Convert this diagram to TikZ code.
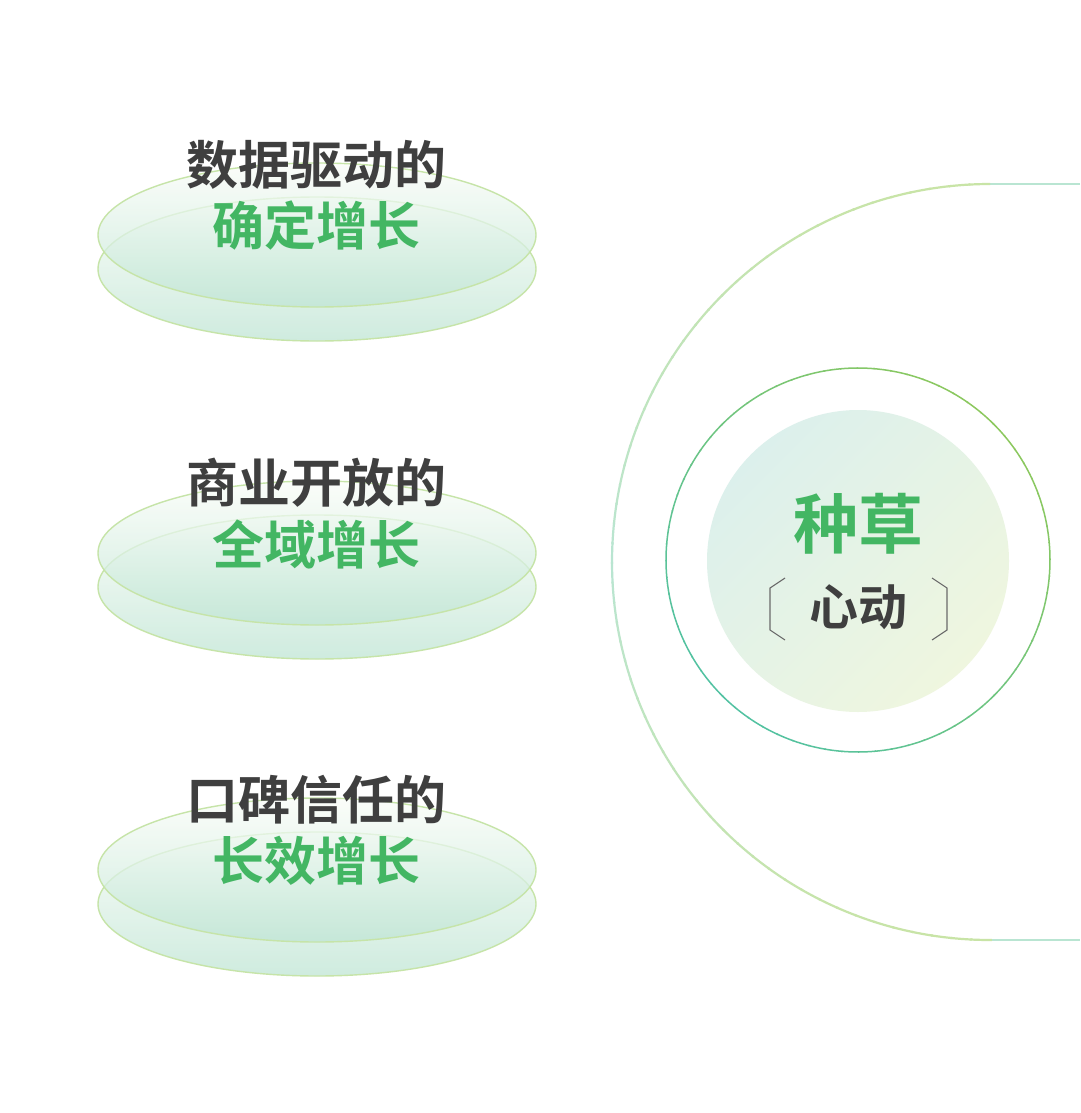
\documentclass[tikz,border=0pt]{standalone}
\usepackage{fontspec}
\newfontfamily\cjkb{Noto Sans CJK SC Bold}
\usetikzlibrary{shapes.geometric}
\definecolor{txtdark}{HTML}{3F3F3F}
\definecolor{txtgreen}{HTML}{43B663}
\definecolor{elltop}{HTML}{FAFDF8}
\definecolor{ellbot}{HTML}{BFE5D4}
\definecolor{ellline}{HTML}{C6E4A8}
\definecolor{ringgreen}{HTML}{8CC85E}
\definecolor{ringteal}{HTML}{52C2A2}
\definecolor{arcmint}{HTML}{B9E5D2}
\definecolor{arcyg}{HTML}{C8E4A6}
\definecolor{discA}{HTML}{DCF0EC}
\definecolor{discB}{HTML}{EFF6DF}
\definecolor{brk}{HTML}{6A6A6A}
\tikzset{
  disc/.style={shade, top color=elltop, bottom color=ellbot, opacity=0.75},
  discline/.style={draw=ellline, line width=1.4pt},
  headtxt/.style={font=\cjkb\fontsize{52}{58}\selectfont, text=txtdark, inner sep=0pt, anchor=center},
  subtxt/.style={font=\cjkb\fontsize{52}{58}\selectfont, text=txtgreen, inner sep=0pt, anchor=center},
}
\begin{document}
\begin{tikzpicture}[x=1pt,y=-1pt]
\useasboundingbox (0,0) rectangle (1080,1113);
\fill[white] (0,0) rectangle (1080,1113);

% big outer arc
\coordinate (arcc) at (990,562);
\coordinate (arctopend) at (1080,184);
\coordinate (arctop) at (990,184);
\coordinate (arcbot) at (990,940);
\coordinate (arcbotend) at (1080,940);
\draw[arcmint, line width=2.2pt] (arctopend) -- (arctop);
\draw[arcmint, line width=2.2pt] (arcbot) -- (arcbotend);
\foreach \i in {0,...,59}{
  \pgfmathsetmacro\a{90+\i*3}
  \pgfmathsetmacro\t{abs(sin(\a+1.5))*100}
  \draw[color=arcyg!\t!arcmint, line width=2.2pt] (arcc) ++(\a:378pt) arc[start angle=\a, delta angle=3.3, radius=378pt];
}

% ring
\coordinate (ringc) at (858,560);
\foreach \i in {0,...,71}{
  \pgfmathsetmacro\a{\i*5}
  \pgfmathsetmacro\t{(1-cos(\a+2.5-45))*50}
  \draw[color=ringteal!\t!ringgreen, line width=1.5pt] (ringc) ++(\a:192pt) arc[start angle=\a, delta angle=5.4, radius=192pt];
}

% inner disc
\shade[shading=axis, top color=discA, bottom color=discB, shading angle=45] (858,561) circle[radius=151pt];
\node[font=\cjkb\fontsize{65}{70}\selectfont, text=txtgreen, inner sep=0pt] (zc) at (858,524) {种草};
\node[font=\cjkb\fontsize{49}{54}\selectfont, text=txtdark, inner sep=0pt] (xd) at (858,607) {心动};
\draw[brk, line width=1.1pt] (785,578) -- (770,588) -- (770,630) -- (785,640);
\draw[brk, line width=1.1pt] (932,578) -- (947,588) -- (947,630) -- (932,640);

% ellipse groups
\foreach \cy/\ha/\hb [count=\k] in {235/数据驱动的/确定增长, 553/商业开放的/全域增长, 870/口碑信任的/长效增长}{
  \pgfmathsetmacro\cyb{\cy+34}
  \shade[disc] (317,\cyb) ellipse[x radius=219pt, y radius=72pt];
  \draw[discline] (317,\cyb) ellipse[x radius=219pt, y radius=72pt];
  \shade[disc] (317,\cy) ellipse[x radius=219pt, y radius=72pt];
  \draw[discline] (317,\cy) ellipse[x radius=219pt, y radius=72pt];
  \node[headtxt] (head\k) at (316,\cy-70) {\ha};
  \node[subtxt] (sub\k) at (316,\cy-9) {\hb};
}
\end{tikzpicture}
\end{document}
